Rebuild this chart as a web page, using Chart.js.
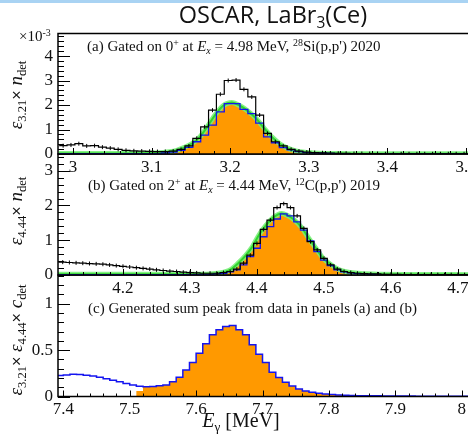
<!DOCTYPE html>
<html>
<head>
<meta charset="utf-8">
<script src="https://cdn.jsdelivr.net/npm/chart.js@4.4.1/dist/chart.umd.min.js"></script>
<style>
  html, body { margin: 0; padding: 0; background: #fff; overflow: hidden; }
  #page { position: relative; width: 468px; height: 434px; overflow: hidden; color: #111;
          font-family: "Liberation Serif", "Times New Roman", serif; }
  .topbar { position: absolute; left: 0; top: 0; width: 468px; height: 3px; background: #a9d3f3; }
  canvas { position: absolute; left: 0; top: 0; }
  .txt { position: absolute; white-space: nowrap; line-height: 1; }
  .txt sub { font-size: 0.66em; vertical-align: -0.3em; }
  .txt sup { font-size: 0.66em; vertical-align: 0.55em; }
  .title { font-family: "Open Sans", "DejaVu Sans", sans-serif; font-size: 23.5px; transform: translate(-50%, -50%); }
  .label { font-size: 15px; transform: translateY(-50%); }
  .ytitle { font-size: 19px; transform: translate(-50%, -50%) rotate(-90deg); }
  .times { font-family: "Liberation Sans", sans-serif; font-size: 0.85em; }
  .xtitle { font-size: 20px; transform: translate(-50%, -50%); }
  .scale { font-size: 15px; }
</style>
</head>
<body>
<div id="page">
  <div class="topbar"></div>
  <canvas id="chartC" width="480" height="434"></canvas>
  <canvas id="chartB" width="480" height="434"></canvas>
  <canvas id="chartA" width="480" height="434"></canvas>

  <div class="txt title" style="left:273px; top:17px;">OSCAR, LaBr<sub>3</sub>(Ce)</div>
  <div class="txt scale" style="left:19px; top:28px;">×10<sup>-3</sup></div>

  <div class="txt label" style="left:87px; top:47px;">(a) Gated on 0<sup>+</sup> at <i>E<sub>x</sub></i> = 4.98 MeV, <sup>28</sup>Si(p,p') 2020</div>
  <div class="txt label" style="left:88px; top:186px;">(b) Gated on 2<sup>+</sup> at <i>E<sub>x</sub></i> = 4.44 MeV, <sup>12</sup>C(p,p') 2019</div>
  <div class="txt label" style="left:88px; top:308px;">(c) Generated sum peak from data in panels (a) and (b)</div>

  <div class="txt ytitle" style="left:17px; top:95px;"><i>ε</i><sub>3.21</sub><span class="times">×</span> <i>n</i><sub>det</sub></div>
  <div class="txt ytitle" style="left:17px; top:211px;"><i>ε</i><sub>4.44</sub><span class="times">×</span> <i>n</i><sub>det</sub></div>
  <div class="txt ytitle" style="left:17px; top:340px;"><i>ε</i><sub>3.21</sub><span class="times">×</span> <i>ε</i><sub>4.44</sub><span class="times">×</span> <i>c</i><sub>det</sub></div>

  <div class="txt xtitle" style="left:241px; top:422px;"><i>E</i><sub>γ</sub> [MeV]</div>
</div>

<script>
// 10 keV bins for all spectra
const binWidth = 0.01;

// (a) 3.21 MeV line, 28Si gate (units of 1e-3)
const binStartA = 2.9825;
const gatedA = [0.34, 0.37, 0.42, 0.33, 0.34, 0.28, 0.24, 0.19, 0.15, 0.13,
                0.12, 0.11, 0.10, 0.10, 0.12, 0.19, 0.33, 0.64, 1.11, 1.79,
                2.44, 3.00, 3.02, 2.64, 2.33, 1.59, 0.84, 0.50, 0.33, 0.19,
                0.12, 0.08, 0.06, 0.05, 0.04, 0.03, 0.03, 0.02, 0.02, 0.02,
                0.02, 0.01, 0.01, 0.01, 0.01, 0.01, 0.01, 0.01, 0.01, 0.01,
                0.01, 0.01, 0.01];
const peakA = [0.01, 0.01, 0.01, 0.01, 0.01, 0.01, 0.01, 0.01, 0.01, 0.01,
               0.01, 0.01, 0.01, 0.04, 0.08, 0.15, 0.27, 0.50, 0.77, 1.18,
               1.72, 2.06, 2.06, 1.82, 1.65, 1.26, 0.70, 0.46, 0.26, 0.17,
               0.10, 0.06, 0.04, 0.03, 0.02, 0.01, 0.01, 0.01, 0.01, 0.01,
               0.01, 0.01, 0.01, 0.01, 0.01, 0.01, 0.01, 0.01, 0.01, 0.01,
               0.01, 0.01, 0.01];
const fitXA = [2.982, 3.00, 3.03, 3.06, 3.09, 3.105, 3.115, 3.123, 3.132, 3.142,
               3.152, 3.1615, 3.171, 3.181, 3.191, 3.202, 3.2125, 3.223, 3.233, 3.243,
               3.253, 3.263, 3.272, 3.282, 3.292, 3.305, 3.32, 3.35, 3.40, 3.45, 3.515];
const fitYA = [0.02, 0.02, 0.02, 0.02, 0.03, 0.04, 0.06, 0.09, 0.15, 0.27,
               0.44, 0.70, 1.12, 1.60, 1.97, 2.10, 1.97, 1.74, 1.45, 1.06,
               0.70, 0.42, 0.25, 0.14, 0.08, 0.045, 0.025, 0.015, 0.01, 0.01, 0.01];

// (b) 4.44 MeV line, 12C gate (units of 1e-3)
const binStartB = 4.095;
const gatedB = [0.38, 0.37, 0.36, 0.35, 0.34, 0.33, 0.32, 0.31, 0.29, 0.27,
                0.25, 0.23, 0.21, 0.19, 0.17, 0.15, 0.13, 0.11, 0.10, 0.08,
                0.07, 0.06, 0.05, 0.05, 0.05, 0.07, 0.10, 0.17, 0.34, 0.57,
                0.91, 1.31, 1.58, 1.94, 2.05, 1.94, 1.70, 1.34, 0.96, 0.72,
                0.48, 0.29, 0.17, 0.10, 0.07, 0.05, 0.04, 0.03, 0.03, 0.02,
                0.02, 0.02, 0.01, 0.01, 0.01, 0.01, 0.01, 0.01, 0.01, 0.01,
                0.01, 0.01, 0.01];
const peakB = [0.01, 0.01, 0.01, 0.01, 0.01, 0.01, 0.01, 0.01, 0.01, 0.01,
               0.01, 0.01, 0.01, 0.01, 0.01, 0.01, 0.01, 0.01, 0.01, 0.01,
               0.01, 0.01, 0.01, 0.01, 0.03, 0.05, 0.09, 0.15, 0.29, 0.53,
               0.77, 1.10, 1.39, 1.61, 1.76, 1.70, 1.53, 1.29, 0.98, 0.67,
               0.43, 0.27, 0.15, 0.09, 0.06, 0.04, 0.03, 0.02, 0.01, 0.01,
               0.01, 0.01, 0.01, 0.01, 0.01, 0.01, 0.01, 0.01, 0.01, 0.01,
               0.01, 0.01, 0.01];
const fitXB = [4.103, 4.15, 4.20, 4.25, 4.30, 4.33, 4.345, 4.352, 4.362, 4.372,
               4.383, 4.393, 4.403, 4.414, 4.424, 4.437, 4.445, 4.456, 4.467, 4.477,
               4.488, 4.498, 4.509, 4.519, 4.529, 4.54, 4.555, 4.58, 4.62, 4.728];
const fitYB = [0.02, 0.02, 0.02, 0.02, 0.02, 0.03, 0.06, 0.09, 0.17, 0.34,
               0.56, 0.81, 1.15, 1.44, 1.65, 1.77, 1.72, 1.58, 1.36, 1.07,
               0.77, 0.50, 0.32, 0.19, 0.11, 0.07, 0.04, 0.025, 0.015, 0.01];

// (c) generated 7.65 MeV sum spectrum
const binStartC = 7.39;
const sumC = [0.226, 0.232, 0.240, 0.238, 0.230, 0.220, 0.207, 0.192, 0.175, 0.158,
              0.140, 0.123, 0.110, 0.106, 0.108, 0.115, 0.124, 0.160, 0.207, 0.286,
              0.366, 0.467, 0.568, 0.665, 0.719, 0.755, 0.766, 0.719, 0.665, 0.557,
              0.456, 0.366, 0.261, 0.204, 0.153, 0.114, 0.081, 0.060, 0.045, 0.035,
              0.027, 0.021, 0.017, 0.013, 0.011, 0.009, 0.008, 0.007, 0.007, 0.006,
              0.006, 0.005, 0.005, 0.005, 0.004, 0.004, 0.004, 0.004, 0.003, 0.003,
              0.003, 0.003, 0.003];
const sumPeakC = [0, 0, 0, 0, 0, 0, 0, 0, 0, 0,
                  0, 0, 0.060, 0.106, 0.108, 0.115, 0.124, 0.160, 0.207, 0.286,
                  0.366, 0.467, 0.568, 0.665, 0.719, 0.755, 0.766, 0.719, 0.665, 0.557,
                  0.456, 0.366, 0.261, 0.204, 0.153, 0.114, 0.081, 0.060, 0.045, 0.035,
                  0.027, 0.021, 0.017, 0.013, 0.011, 0.009, 0.008, 0.007, 0.007, 0.006,
                  0.006, 0.005, 0.005, 0.005, 0.004, 0.004, 0.004, 0.004, 0.003, 0.003,
                  0.003, 0.003, 0.003];

const ORANGE = "#ff9900";
const BLUE = "#1414f0";
const GREEN = "#2fd42f";
const GREEN_HALO = "rgba(120,240,120,0.9)";

// left edges of every bin plus closing edge, for stepped lines
function steps(start, values) {
  const pts = values.map((v, i) => ({ x: start + i * binWidth, y: v }));
  pts.push({ x: start + values.length * binWidth, y: values[values.length - 1] });
  return pts;
}
function centres(start, values) {
  return values.map((v, i) => ({ x: start + (i + 0.5) * binWidth, y: v }));
}
function curve(xs, ys) {
  return xs.map((x, i) => ({ x, y: ys[i] }));
}

// frame and inward ROOT-like ticks
const frame = {
  id: "frame",
  afterDatasetsDraw(chart, args, opts) {
    const { ctx, chartArea: a, scales } = chart;
    const x = scales.x, y = scales.y;
    ctx.save();
    ctx.strokeStyle = "#000";
    ctx.lineWidth = 1;
    ctx.beginPath();
    for (let v = Math.ceil(x.min / opts.xMinor) * opts.xMinor; v <= x.max; v += opts.xMinor) {
      const px = Math.round(x.getPixelForValue(v)) + 0.5;
      const major = Math.abs(v / opts.xMajor - Math.round(v / opts.xMajor)) < 1e-6;
      ctx.moveTo(px, a.bottom);
      ctx.lineTo(px, a.bottom - (major ? 6 : 3));
    }
    for (let v = 0; v <= y.max + 1e-9; v += opts.yMinor) {
      const py = Math.round(y.getPixelForValue(v)) + 0.5;
      const major = Math.abs(v / opts.yMajor - Math.round(v / opts.yMajor)) < 1e-6;
      ctx.moveTo(a.left, py);
      ctx.lineTo(a.left + (major ? 12 : 6), py);
    }
    ctx.stroke();
    ctx.lineWidth = 1.5;
    ctx.strokeRect(a.left, a.top, a.right - a.left, a.bottom - a.top);
    ctx.restore();
  }
};

const tickFont = { family: "Liberation Serif", size: 17 };
const fmt = v => String(+v.toFixed(2));

function panelOptions(p) {
  return {
    responsive: false,
    animation: false,
    events: [],
    layout: { padding: { top: p.top, right: 4, left: 0, bottom: 0 }, autoPadding: false },
    plugins: {
      legend: { display: false },
      tooltip: { enabled: false },
      frame: { xMinor: 0.02, xMajor: 0.1, yMinor: p.yMinor, yMajor: p.yStep }
    },
    scales: {
      x: {
        type: "linear", min: p.xMin, max: p.xMax,
        afterFit: s => { s.height = 434 - p.bottom; },
        grid: { display: false, drawTicks: false },
        border: { display: false },
        ticks: { stepSize: 0.1, includeBounds: false, autoSkip: false, maxRotation: 0,
                 padding: 3, color: "#111", font: tickFont, callback: fmt }
      },
      y: {
        type: "linear", min: 0, max: p.yMax,
        afterFit: s => { s.width = 58; },
        grid: { display: false, drawTicks: false },
        border: { display: false },
        ticks: { stepSize: p.yStep, includeBounds: false, autoSkip: false,
                 padding: 5, color: "#111", font: tickFont, callback: fmt }
      }
    }
  };
}

function gatedPanel(id, p, start, gated, peak, fx, fy) {
  const fit = curve(fx, fy);
  return new Chart(document.getElementById(id), {
    type: "line",
    data: {
      datasets: [
        { data: centres(start, gated), showLine: false, pointStyle: "line", rotation: 90,
          pointRadius: 2, borderColor: "#000", borderWidth: 1, order: 0 },
        { data: steps(start, gated), stepped: true, borderColor: "#000", borderWidth: 1.2,
          pointRadius: 0, fill: false, order: 1 },
        { data: steps(start, peak), stepped: true, borderColor: BLUE, borderWidth: 1.3,
          pointRadius: 0, fill: false, order: 2 },
        { data: fit, cubicInterpolationMode: "monotone", borderColor: GREEN, borderWidth: 2,
          pointRadius: 0, fill: false, order: 3 },
        { data: fit, cubicInterpolationMode: "monotone", borderColor: GREEN_HALO, borderWidth: 5,
          pointRadius: 0, fill: false, order: 4 },
        { data: fit, cubicInterpolationMode: "monotone", borderWidth: 0, borderColor: ORANGE,
          backgroundColor: ORANGE, pointRadius: 0, fill: "origin", order: 5 }
      ]
    },
    options: panelOptions(p),
    plugins: [frame]
  });
}

gatedPanel("chartA",
  { top: 33.5, bottom: 154, xMin: 2.981, xMax: 3.5127, yMax: 4.92, yStep: 1, yMinor: 0.2 },
  binStartA, gatedA, peakA, fitXA, fitYA);

gatedPanel("chartB",
  { top: 154, bottom: 275, xMin: 4.103, xMax: 4.727, yMax: 3.48, yStep: 1, yMinor: 0.2 },
  binStartB, gatedB, peakB, fitXB, fitYB);

new Chart(document.getElementById("chartC"), {
  type: "line",
  data: {
    datasets: [
      { data: steps(binStartC, sumC), stepped: true, borderColor: BLUE, borderWidth: 1.5,
        pointRadius: 0, fill: false, order: 0 },
      { data: steps(binStartC, sumPeakC), stepped: true, borderWidth: 0, borderColor: ORANGE,
        backgroundColor: ORANGE, pointRadius: 0, fill: "origin", order: 1 }
    ]
  },
  options: panelOptions({ top: 275, bottom: 396.5, xMin: 7.392, xMax: 8.0215,
                          yMax: 1.31, yStep: 0.5, yMinor: 0.1 }),
  plugins: [frame]
});
</script>
</body>
</html>
